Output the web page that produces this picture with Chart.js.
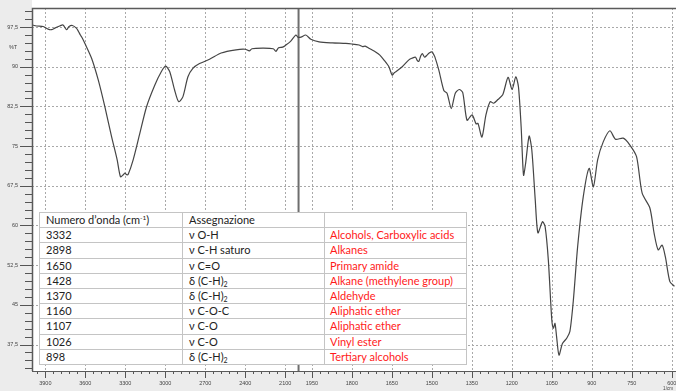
<!DOCTYPE html>
<html>
<head>
<meta charset="utf-8">
<script src="https://cdn.jsdelivr.net/npm/chart.js@4.4.1/dist/chart.umd.min.js"></script>
<style>
  html, body { margin: 0; padding: 0; background: #fff; }
  #wrap { position: relative; width: 676px; height: 391px; overflow: hidden; }
  #wrap canvas { position: absolute; left: 0; top: 0; }
  #bands {
    position: absolute; left: 39px; top: 212px;
    border-collapse: collapse; table-layout: fixed; background: #fff;
    font-family: Lato, "Open Sans", sans-serif; font-size: 11px; color: #222;
  }
  #bands td {
    border: 1px solid #c4c4c4; padding: 0 0 0 6px; height: 14px; line-height: 14px;
    white-space: nowrap; overflow: hidden; box-sizing: border-box;
  }
  #bands tr { height: 15.2px; }
  #bands td.grp { color: #ff1a1a; padding-left: 5px; }
  #bands sup { font-size: 6.5px; vertical-align: 4px; line-height: 0; }
  #bands sub { font-size: 7px; vertical-align: -2px; line-height: 0; }
</style>
</head>
<body>
<div id="wrap">
  <canvas id="ir" width="676" height="391"></canvas>
  <table id="bands">
    <colgroup><col style="width:143px"><col style="width:142px"><col style="width:142px"></colgroup>
    <tbody id="bandsBody"></tbody>
  </table>
</div>
<script>
// IR spectrum: wavenumber (cm-1) and transmittance (%T)
const WAVENUMBER = [
  4000, 3966, 3916, 3879, 3854, 3829, 3792, 3767, 3741, 3722, 3697, 3667, 3652, 3637, 3622,
  3603, 3553, 3503, 3453, 3403, 3361, 3336, 3315, 3303, 3290, 3278, 3241, 3191, 3141, 3079,
  3029, 2997, 2967, 2930, 2900, 2868, 2830, 2793, 2743, 2668, 2581, 2469, 2400, 2369, 2350,
  2270, 2190, 2170, 2150, 2120, 2095, 2060, 2020, 2005, 1991, 1973, 1954, 1923, 1873, 1823,
  1800, 1773, 1760, 1750, 1736, 1725, 1711, 1695, 1680, 1661, 1649, 1640, 1634, 1611, 1586,
  1575, 1561, 1555, 1549, 1542, 1536, 1527, 1518, 1510, 1499, 1494, 1489, 1474, 1455, 1443,
  1427, 1412, 1397, 1384, 1368, 1349, 1334, 1327, 1312, 1297, 1281, 1268, 1252, 1234, 1214,
  1199, 1185, 1175, 1165, 1156, 1148, 1135, 1125, 1112, 1102, 1085, 1075, 1063, 1050, 1044,
  1038, 1032, 1023, 1010, 994, 982, 969, 953, 932, 910, 894, 878, 857, 832, 811,
  782, 757, 732, 711, 682, 666, 651, 636, 624, 607, 590
];
const TRANSMITTANCE = [
  97.9, 97.7, 97.6, 97.1, 97.0, 97.3, 97.7, 97.9, 97.0, 97.6, 97.8, 97.3, 96.7, 96.0, 95.4,
  94.4, 91.6, 87.5, 82.4, 76.8, 72.4, 69.2, 69.6, 69.9, 69.6, 69.7, 72.4, 77.4, 82.4, 86.5,
  89.1, 90.1, 89.1, 85.6, 83.4, 84.3, 88.1, 89.7, 90.6, 91.4, 92.6, 93.2, 93.3, 93.0, 93.4,
  93.5, 93.4, 92.9, 93.6, 93.7, 94.1, 94.8, 96.0, 95.6, 95.6, 96.0, 95.2, 94.7, 94.5, 94.4,
  94.3, 94.1, 93.8, 93.9, 93.5, 93.2, 92.8, 92.2, 91.3, 90.0, 88.4, 88.9, 89.1, 90.0, 91.3,
  91.6, 91.8, 91.2, 91.0, 92.0, 92.5, 91.8, 92.2, 92.6, 92.8, 92.4, 91.9, 89.4, 85.5, 85.0,
  82.1, 85.0, 85.7, 85.1, 79.9, 80.9, 79.2, 79.3, 76.7, 80.9, 83.4, 83.1, 83.8, 84.7, 88.0,
  85.7, 88.1, 86.2, 78.7, 69.5, 71.8, 76.9, 74.3, 64.8, 58.6, 60.7, 59.8, 53.5, 42.2, 40.6,
  41.5, 39.0, 35.5, 37.7, 38.7, 40.0, 45.9, 56.0, 65.4, 70.8, 67.3, 72.4, 75.8, 77.9, 76.3,
  76.5, 75.2, 73.0, 66.1, 63.3, 58.5, 55.4, 56.3, 54.1, 49.4, 48.5
];

// Axis ticks
const X_MAJOR_TICKS = [3900, 3600, 3300, 3000, 2700, 2400, 2100, 1950, 1800, 1650, 1500, 1350, 1200, 1050, 900, 750, 600];
const Y_MAJOR_TICKS = [37.5, 45, 52.5, 60, 67.5, 75, 82.5, 90, 97.5];

// Assignment table
const TABLE_WAVENUMBERS = ['3332', '2898', '1650', '1428', '1370', '1160', '1107', '1026', '898'];
const TABLE_ASSIGNMENTS = ['ν O-H', 'ν C-H saturo', 'ν C=O', 'δ (C-H)<sub>2</sub>', 'δ (C-H)<sub>2</sub>', 'ν C-O-C', 'ν C-O', 'ν C-O', 'δ (C-H)<sub>2</sub>'];
const TABLE_GROUPS = ['Alcohols, Carboxylic acids', 'Alkanes', 'Primary amide', 'Alkane (methylene group)', 'Aldehyde', 'Aliphatic ether', 'Aliphatic ether', 'Vinyl ester', 'Tertiary alcohols'];

// Axis is compressed 2:1 above 2000 cm-1
const AXIS_BREAK = 2000;
const toAxis = w => (w > AXIS_BREAK ? AXIS_BREAK + (w - AXIS_BREAK) / 2 : w);

const X_MIN = 584, X_MAX = toAxis(4000);
const Y_MIN = 32.5, Y_MAX = 101.1;

// minor tick positions: 60 cm-1 steps above the break, 30 cm-1 below
const X_MINOR_TICKS = [];
for (let w = 3960; w > AXIS_BREAK; w -= 60) X_MINOR_TICKS.push(w);
for (let w = 1980; w >= 600; w -= 30) X_MINOR_TICKS.push(w);
const Y_MINOR_TICKS = [];
for (let v = 33; v <= 100.5; v += 1.5) Y_MINOR_TICKS.push(v);

// build the table
const body = document.getElementById('bandsBody');
let html = '<tr><td>Numero d\u2019onda (cm<sup>-1</sup>)</td><td>Assegnazione</td><td class="grp"></td></tr>';
TABLE_WAVENUMBERS.forEach((w, i) => {
  html += '<tr><td>' + w + '</td><td>' + TABLE_ASSIGNMENTS[i] + '</td><td class="grp">' + TABLE_GROUPS[i] + '</td></tr>';
});
body.innerHTML = html;

const frame = {
  id: 'frame',
  beforeDraw(chart) {
    const { ctx, chartArea: a, width, height } = chart;
    ctx.save();
    ctx.fillStyle = '#fff';
    ctx.fillRect(0, 0, width, height);
    ctx.fillStyle = '#ececec';
    ctx.fillRect(0, 0, a.left, height);
    ctx.fillRect(0, a.bottom, width, height - a.bottom);
    ctx.restore();
  },
  beforeDatasetsDraw(chart) {
    // dotted grid at the labelled ticks
    const { ctx, chartArea: a, scales: { x, y } } = chart;
    ctx.save();
    ctx.strokeStyle = '#a9a9a9';
    ctx.lineWidth = 1;
    ctx.setLineDash([2, 2]);
    Y_MAJOR_TICKS.forEach(v => {
      const p = Math.round(y.getPixelForValue(v)) + 0.5;
      ctx.beginPath(); ctx.moveTo(a.left, p); ctx.lineTo(a.right, p); ctx.stroke();
    });
    X_MAJOR_TICKS.forEach(w => {
      const p = Math.round(x.getPixelForValue(toAxis(w))) + 0.5;
      ctx.beginPath(); ctx.moveTo(p, a.top); ctx.lineTo(p, a.bottom); ctx.stroke();
    });
    ctx.restore();
  },
  afterDraw(chart) {
    const { ctx, chartArea: a, scales: { x, y } } = chart;
    ctx.save();
    ctx.strokeStyle = '#555';
    ctx.lineWidth = 1;
    const hTick = (v, len) => {
      const p = Math.round(y.getPixelForValue(v)) + 0.5;
      if (p < a.top || p > a.bottom) return;
      ctx.beginPath(); ctx.moveTo(a.left - len, p); ctx.lineTo(a.left, p); ctx.stroke();
    };
    const vTick = (w, len) => {
      const p = Math.round(x.getPixelForValue(toAxis(w))) + 0.5;
      if (p < a.left || p > a.right) return;
      ctx.beginPath(); ctx.moveTo(p, a.bottom); ctx.lineTo(p, a.bottom + len); ctx.stroke();
    };
    Y_MINOR_TICKS.forEach(v => hTick(v, 7));
    Y_MAJOR_TICKS.forEach(v => hTick(v, 12));
    X_MINOR_TICKS.forEach(w => vTick(w, 3));
    X_MAJOR_TICKS.forEach(w => vTick(w, 7));

    // plot frame
    ctx.strokeStyle = '#5a5a5a';
    ctx.lineWidth = 1.5;
    ctx.beginPath();
    ctx.moveTo(a.left + 0.5, a.bottom);
    ctx.lineTo(a.left + 0.5, a.top + 0.5);
    ctx.lineTo(a.right, a.top + 0.5);
    ctx.stroke();
    ctx.lineWidth = 1;
    ctx.beginPath();
    ctx.moveTo(a.left, a.bottom + 0.5);
    ctx.lineTo(a.right, a.bottom + 0.5);
    ctx.stroke();

    // unit labels
    ctx.fillStyle = '#444';
    ctx.font = '5.5px "Liberation Sans", sans-serif';
    ctx.textAlign = 'center';
    ctx.textBaseline = 'middle';
    ctx.fillText('%T', 13, 47);
    ctx.font = '4.5px "Liberation Sans", sans-serif';
    ctx.fillText('1/cm', 668, 388.5);
    ctx.restore();
  }
};

const spectrum = WAVENUMBER.map((w, i) => ({ x: toAxis(w), y: TRANSMITTANCE[i] }));
const breakLine = [{ x: toAxis(AXIS_BREAK), y: Y_MIN }, { x: toAxis(AXIS_BREAK), y: Y_MAX }];

const tickFont = { family: '"Liberation Sans", Arial, sans-serif', size: 5.5 };
const noPadding = scale => {
  scale.paddingLeft = 0; scale.paddingRight = 0;
  scale.paddingTop = 0; scale.paddingBottom = 0;
};

new Chart(document.getElementById('ir'), {
  type: 'line',
  data: {
    datasets: [
      { data: spectrum, borderColor: '#454545', borderWidth: 1.2, pointRadius: 0, tension: 0.25, fill: false },
      { data: breakLine, borderColor: '#6e6e6e', borderWidth: 2, pointRadius: 0, tension: 0, fill: false }
    ]
  },
  options: {
    responsive: false,
    devicePixelRatio: 1,
    animation: false,
    layout: { padding: { top: 8, right: 0, bottom: 0, left: 0 } },
    plugins: { legend: { display: false }, tooltip: { enabled: false } },
    scales: {
      x: {
        type: 'linear',
        reverse: true,
        min: X_MIN,
        max: X_MAX,
        afterBuildTicks(scale) { scale.ticks = X_MAJOR_TICKS.map(w => ({ value: toAxis(w) })); },
        afterFit(scale) { scale.height = 20; noPadding(scale); },
        ticks: {
          autoSkip: false, maxRotation: 0, minRotation: 0, padding: 9,
          font: tickFont, color: '#444',
          callback: (v, i) => String(X_MAJOR_TICKS[i])
        },
        grid: { display: false, drawTicks: false },
        border: { display: false }
      },
      y: {
        type: 'linear',
        min: Y_MIN,
        max: Y_MAX,
        afterBuildTicks(scale) { scale.ticks = Y_MAJOR_TICKS.map(v => ({ value: v })); },
        afterFit(scale) { scale.width = 32; noPadding(scale); },
        ticks: {
          padding: 14, font: tickFont, color: '#444',
          callback: (v, i) => String(Y_MAJOR_TICKS[i]).replace('.', ',')
        },
        grid: { display: false, drawTicks: false },
        border: { display: false }
      }
    }
  },
  plugins: [frame]
});
</script>
</body>
</html>
